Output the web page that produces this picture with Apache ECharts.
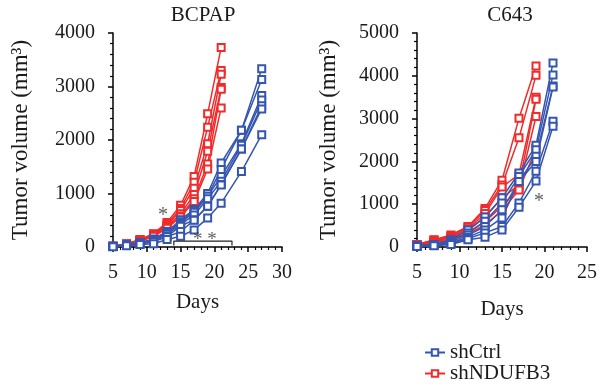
<!DOCTYPE html>
<html><head><meta charset="utf-8">
<script src="https://cdn.jsdelivr.net/npm/echarts@6/dist/echarts.min.js"></script>
<style>html,body{margin:0;padding:0;background:#fff}#c{width:600px;height:389px}</style>
</head><body><div id="c"></div>
<script>
// BCPAP
const bcpapRedDays = [5, 7, 9, 11, 13, 15, 17, 19, 21];
const bcpapBlueDays = [5, 7, 9, 11, 13, 15, 17, 19, 21, 24, 27];
const bcpapRed = [
  [15, 60, 140, 250, 460, 780, 1320, 2490, 3730],
  [15, 55, 130, 240, 430, 720, 1210, 2240, 3300],
  [12, 50, 120, 230, 400, 680, 1100, 1930, 3230],
  [10, 45, 115, 220, 380, 620, 980, 1790, 2980],
  [10, 45, 110, 210, 370, 580, 900, 1550, 2950],
  [8, 40, 100, 200, 350, 560, 850, 1460, 2600]
];
const bcpapBlue = [
  [15, 40, 80, 150, 290, 510, 700, 1000, 1570, 2180, 3330],
  [12, 38, 75, 140, 280, 470, 680, 950, 1450, 2180, 3130],
  [10, 35, 70, 130, 260, 450, 650, 950, 1320, 1930, 2830],
  [10, 35, 65, 120, 240, 420, 600, 900, 1230, 1900, 2750],
  [8, 30, 60, 110, 200, 390, 510, 760, 1170, 1830, 2640],
  [8, 30, 55, 100, 190, 290, 500, 760, 1160, 1830, 2580],
  [5, 25, 45, 60, 140, 200, 320, 540, 820, 1410, 2100]
];
// C643
const c643RedDays = [5, 7, 9, 11, 13, 15, 17, 19];
const c643BlueDays = [5, 7, 9, 11, 13, 15, 17, 19, 21];
const c643Red = [
  [60, 170, 280, 480, 900, 1560, 3010, 4230],
  [55, 160, 260, 460, 850, 1450, 2550, 4010],
  [50, 140, 240, 420, 780, 1400, 1700, 3500],
  [45, 130, 220, 380, 700, 1150, 1450, 3450],
  [40, 120, 190, 330, 600, 950, 1370, 3050],
  [35, 100, 170, 300, 520, 850, 1330, 2300]
];
const c643Blue = [
  [30, 60, 170, 400, 700, 1150, 1730, 2380, 4300],
  [30, 55, 150, 330, 600, 1030, 1650, 2270, 4020],
  [25, 50, 120, 280, 480, 870, 1530, 2120, 3760],
  [20, 45, 100, 230, 400, 680, 1530, 2000, 3740],
  [15, 40, 80, 200, 330, 480, 1030, 1770, 2940],
  [10, 30, 60, 170, 230, 400, 930, 1540, 2820]
];
const titles = ['BCPAP', 'C643'];
const legendNames = ['shCtrl', 'shNDUFB3'];
const xTicks1 = {min: 5, max: 30, interval: 5};
const xTicks2 = {min: 5, max: 25, interval: 5};
const yTicks1 = {min: 0, max: 4000, interval: 1000};
const yTicks2 = {min: 0, max: 5000, interval: 1000};
// annotations (data coordinates)
const bcpapStar = [[12.4, 590, '*']];
const bcpapStars2 = [[18.6, 130, '* *']];
const bcpapBracket = [[14, 30], [14, 110], [22.6, 110], [22.6, 30]];
const c643Star = [[19.35, 1050, '*']];

const BLUE = '#3556b0', RED = '#f02b2b';
const FONT = '"Liberation Serif", "DejaVu Serif", serif';
const TXT = '#1a1a1a';

function pairs(days, vals) { return days.map((d, i) => [d, vals[i]]); }

function lineSeries(name, color, days, vals, gi) {
  return {
    type: 'line', name: name, xAxisIndex: gi, yAxisIndex: gi,
    data: pairs(days, vals), symbol: 'emptyRect', symbolSize: 7,
    showSymbol: true,
    lineStyle: {color: color, width: 1.5}, itemStyle: {color: color, borderWidth: 1.5},
    emphasis: {disabled: true}, animation: false, z: 3
  };
}
function textSeries(data, gi, size) {
  return {
    type: 'scatter', xAxisIndex: gi, yAxisIndex: gi, symbolSize: 1,
    itemStyle: {color: 'rgba(0,0,0,0)'},
    data: data.map(d => ({value: [d[0], d[1]], name: d[2]})),
    label: {show: true, position: 'inside', formatter: p => p.name,
      fontFamily: FONT, fontSize: size, color: '#333'},
    silent: true, animation: false, z: 5
  };
}

function xAxis(gi, t, gap) {
  return {
    type: 'value', gridIndex: gi, min: t.min, max: t.max, interval: t.interval,
    name: 'Days', nameLocation: 'middle', nameGap: gap,
    nameTextStyle: {fontFamily: FONT, fontSize: 21, color: TXT},
    axisLine: {lineStyle: {color: '#000', width: 1.5}},
    axisTick: {show: true, length: 5, lineStyle: {color: '#000', width: 1.5}},
    minorTick: {show: true, splitNumber: 5, length: 3, lineStyle: {color: '#000', width: 1.2}},
    axisLabel: {fontFamily: FONT, fontSize: 20, color: TXT, margin: 16, formatter: v => String(v)},
    splitLine: {show: false}
  };
}
function yAxis(gi, t, gap) {
  return {
    type: 'value', gridIndex: gi, min: t.min, max: t.max, interval: t.interval,
    name: 'Tumor volume (mm³)', nameLocation: 'middle', nameGap: gap, nameRotate: 90,
    nameTextStyle: {fontFamily: FONT, fontSize: 23, color: TXT},
    axisLine: {show: true, lineStyle: {color: '#000', width: 1.5}},
    axisTick: {show: true, length: 5, lineStyle: {color: '#000', width: 1.5}},
    minorTick: {show: true, splitNumber: 5, length: 3, lineStyle: {color: '#000', width: 1.2}},
    axisLabel: {fontFamily: FONT, fontSize: 20, color: TXT, margin: 18, formatter: v => String(v)},
    splitLine: {show: false}
  };
}

const series = [];
bcpapRed.forEach(v => series.push(lineSeries(legendNames[1], RED, bcpapRedDays, v, 0)));
bcpapBlue.forEach(v => series.push(lineSeries(legendNames[0], BLUE, bcpapBlueDays, v, 0)));
c643Red.forEach(v => series.push(lineSeries(legendNames[1], RED, c643RedDays, v, 1)));
c643Blue.forEach(v => series.push(lineSeries(legendNames[0], BLUE, c643BlueDays, v, 1)));
series.push({
  type: 'line', name: 'bracket', xAxisIndex: 0, yAxisIndex: 0, data: bcpapBracket,
  symbol: 'none', lineStyle: {color: '#222', width: 1.2}, silent: true, animation: false, z: 4
});
series.push(textSeries(bcpapStar, 0, 20));
series.push(textSeries(bcpapStars2, 0, 19));
series.push(textSeries(c643Star, 1, 20));

function legendItem(name, top) {
  return {
    data: [name], orient: 'vertical', left: 419, top: top,
    itemWidth: 20, itemHeight: 8,
    textStyle: {fontFamily: FONT, fontSize: 21, color: TXT}
  };
}

const option = {
  animation: false,
  backgroundColor: '#fff',
  title: [
    {text: titles[0], left: 198, top: 0, textAlign: 'center',
      textStyle: {fontFamily: FONT, fontSize: 21, fontWeight: 'normal', color: TXT}},
    {text: titles[1], left: 505, top: 0, textAlign: 'center',
      textStyle: {fontFamily: FONT, fontSize: 21, fontWeight: 'normal', color: TXT}}
  ],
  grid: [
    {left: 113, top: 33, width: 169, height: 214},
    {left: 417, top: 33, width: 170, height: 214}
  ],
  xAxis: [xAxis(0, xTicks1, 45), xAxis(1, xTicks2, 52)],
  yAxis: [yAxis(0, yTicks1, 81), yAxis(1, yTicks2, 77)],
  legend: [legendItem(legendNames[0], 337), legendItem(legendNames[1], 358)],
  series: series
};
const chart = echarts.init(document.getElementById('c'), null, {renderer: 'canvas'});
chart.setOption(option);
</script></body></html>
